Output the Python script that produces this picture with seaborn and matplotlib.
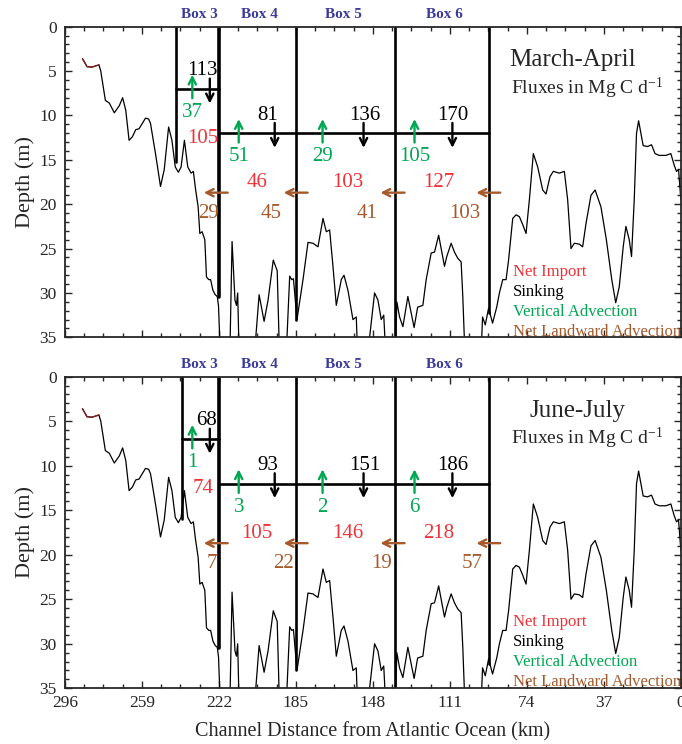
import numpy as np
import pandas as pd
import matplotlib
matplotlib.use("Agg")
import matplotlib.pyplot as plt
import matplotlib.transforms as mtransforms
import seaborn as sns

# ---------------------------------------------------------------- data
# Channel bathymetry: distance from the Atlantic (km) and depth (m).
# Depths of 38 mark where the bottom drops below the plotted range.
profile_km = [287.6, 285.4, 283.0, 281.0, 279.7, 278.8, 276.6, 274.7, 272.3, 269.9,
              268.3, 266.8, 265.2, 263.6, 262.0, 260.4, 257.3, 255.8, 254.9, 252.5,
              250.1, 248.3, 246.2, 244.6, 243.0, 241.5, 240.2, 238.6, 237.0, 235.4,
              234.3, 233.2, 232.0, 231.2, 230.1, 228.8, 228.0, 226.9, 226.0, 224.9,
              223.8, 222.8, 222.2, 221.2, 216.8, 216.6, 215.7, 214.3, 213.6, 213.0,
              212.2, 204.5, 204.3, 202.7, 200.3, 198.4, 195.9, 194.0, 192.8, 189.5,
              189.3, 188.0, 187.0, 186.2, 184.5, 181.6, 179.2, 176.8, 174.4, 172.0,
              170.4, 168.8, 167.2, 165.6, 163.2, 161.9, 160.0, 157.6, 156.0, 155.2,
              149.8, 149.6, 147.2, 145.6, 144.0, 142.8, 141.6, 137.4, 136.5, 135.2,
              133.6, 131.2, 129.6, 128.2, 126.5, 124.0, 122.4, 120.0, 118.4, 116.4,
              114.5, 113.6, 112.5, 110.4, 108.8, 107.2, 105.6, 104.8, 103.6, 96.2,
              95.3, 94.0, 92.4, 90.5, 88.5, 87.2, 85.6, 84.0, 82.8, 80.8,
              79.2, 77.6, 76.0, 74.4, 72.8, 70.9, 68.8, 66.4, 64.8, 62.9,
              61.3, 58.4, 56.0, 54.4, 52.8, 51.2, 48.8, 47.2, 45.6, 43.2,
              41.2, 38.4, 35.8, 33.2, 31.3, 29.6, 27.7, 26.4, 24.8, 23.7,
              22.4, 21.3, 20.3, 19.2, 18.1, 16.0, 14.1, 12.4, 10.4, 7.2,
              4.8, 3.2, 2.1, 1.1, 0.0]
profile_depth = [3.6, 4.5, 4.55, 4.4, 4.3, 5.0, 8.3, 8.6, 9.7, 8.9,
                 8.0, 9.4, 12.8, 12.4, 11.6, 11.5, 10.3, 10.4, 10.9, 14.3,
                 18.0, 16.1, 11.3, 12.8, 15.8, 16.4, 15.8, 12.8, 15.8, 16.5,
                 16.3, 18.4, 20.3, 23.3, 23.1, 24.0, 28.2, 28.5, 28.5, 29.7,
                 30.2, 30.4, 31.5, 38.0, 38.0, 35.0, 24.2, 30.8, 31.4, 30.0,
                 38.0, 38.0, 35.0, 30.2, 33.2, 30.8, 26.3, 27.5, 38.0, 38.0,
                 35.0, 28.1, 28.5, 28.4, 33.0, 28.5, 24.3, 24.4, 24.8, 21.6,
                 23.1, 22.9, 27.0, 31.4, 28.5, 28.0, 29.7, 33.0, 32.7, 38.0,
                 38.0, 35.0, 30.0, 30.8, 33.0, 32.5, 38.0, 38.0, 31.0, 32.7,
                 33.8, 30.4, 32.3, 33.9, 31.6, 31.4, 28.5, 25.5, 25.4, 23.5,
                 25.9, 27.0, 25.9, 24.4, 25.4, 26.1, 26.5, 30.4, 38.0, 38.0,
                 32.7, 33.6, 31.7, 33.4, 31.6, 30.0, 28.5, 28.5, 26.3, 21.6,
                 21.2, 21.4, 22.3, 23.3, 19.5, 14.3, 15.8, 18.4, 18.85, 16.9,
                 16.3, 16.5, 16.3, 19.5, 25.0, 24.4, 24.5, 24.8, 22.2, 19.0,
                 18.4, 20.3, 24.0, 28.5, 31.1, 29.3, 24.8, 22.5, 24.0, 25.9,
                 19.5, 12.0, 10.6, 12.0, 13.4, 13.5, 13.3, 14.3, 14.5, 14.5,
                 14.3, 15.6, 16.3, 16.1, 19.5]

seasons = ["March-April", "June-July"]
box_names = ["Box 3", "Box 4", "Box 5", "Box 6"]

# Carbon fluxes (Mg C d-1) per box: Box 3, Box 4, Box 5, Box 6
sinking = {"March-April": [113, 81, 136, 170], "June-July": [68, 93, 151, 186]}
vertical_adv = {"March-April": [37, 51, 29, 105], "June-July": [1, 3, 2, 6]}
net_import = {"March-April": [105, 46, 103, 127], "June-July": [74, 105, 146, 218]}
landward_adv = {"March-April": [29, 45, 41, 103], "June-July": [7, 22, 19, 57]}

legend_labels = ["Net Import", "Sinking", "Vertical Advection", "Net Landward Advection"]

# ---------------------------------------------------------------- layout
# box boundaries (km) and how deep each boundary line reaches (m)
box3_left = {"March-April": 242.7, "June-July": 240.0}
box3_left_bottom = {"March-April": 15.3, "June-July": 16.0}
bounds_km = [222.0, 185.0, 137.6, 92.0]
bounds_bottom = [30.5, 33.0, 35.0, 32.3]
bounds_lw = [2.6, 1.9, 1.9, 1.9]
box3_lid = 7.0
lid = 12.0

box_label_km = [231.2, 202.4, 162.4, 113.6]
vert_x = [234.8, 212.5, 172.2, 128.0]
sink_lab_x = {"March-April": [229.8, 198.6, 152.0, 109.8],
              "June-July": [227.9, 198.6, 152.0, 109.8]}
sink_arr_x = [226.4, 195.2, 152.5, 109.8]
import_x = [229.8, 203.9, 160.2, 116.5]
land_arr_from = [217.8, 179.4, 132.8, 86.8]
land_arr_to = [229.3, 190.9, 144.4, 98.3]
land_lab_x = {"March-April": [226.9, 196.7, 150.6, 103.6],
              "June-July": [225.5, 190.9, 143.9, 100.2]}
title_x = {"March-April": 82.4, "June-July": 72.8}

RED = "#ee3338"
GREEN = "#00a651"
BROWN = "#a65a2c"
BLUE = "#3b3b9b"
colors_leg = [RED, "black", GREEN, BROWN]

# ---------------------------------------------------------------- style
sns.set_style("ticks")
plt.rcParams["font.family"] = ["Liberation Serif", "DejaVu Serif"]
plt.rcParams["mathtext.fontset"] = "custom"
plt.rcParams["mathtext.rm"] = "Liberation Serif"
plt.rcParams["mathtext.it"] = "Liberation Serif:italic"

fig = plt.figure(figsize=(6.82, 7.44), dpi=100)
ax_top = fig.add_axes([0.0953, 0.5466, 0.9030, 0.4175])
ax_bot = fig.add_axes([0.0953, 0.0749, 0.9030, 0.4188])

df = pd.DataFrame({"km": profile_km, "depth": profile_depth})

NUM_FS = 15
DY = 0.3  # nudges text centres down onto the glyphs' visual middle


def arrow(ax, x0, y0, x1, y1, color):
    ax.annotate("", xy=(x1, y1), xytext=(x0, y0),
                arrowprops=dict(arrowstyle="->", color=color, lw=1.7,
                                mutation_scale=13, shrinkA=0, shrinkB=0))


for ax, season in zip([ax_top, ax_bot], seasons):
    # channel bottom
    sns.lineplot(data=df, x="km", y="depth", ax=ax, color="black", lw=0.9,
                 sort=False, estimator=None)
    sns.lineplot(data=df.iloc[:5], x="km", y="depth", ax=ax, color="#8b1e1e",
                 lw=0.9, sort=False, estimator=None)

    # box walls and lids
    ax.plot([box3_left[season]] * 2, [0, box3_left_bottom[season]], color="black", lw=1.9)
    for xb, yb, lw in zip(bounds_km, bounds_bottom, bounds_lw):
        ax.plot([xb, xb], [0, yb], color="black", lw=lw)
    ax.plot([box3_left[season], bounds_km[0]], [box3_lid] * 2, color="black", lw=1.9)
    ax.plot([bounds_km[0], bounds_km[-1]], [lid] * 2, color="black", lw=1.9)

    trans = mtransforms.blended_transform_factory(ax.transData, ax.transAxes)
    for name, xk in zip(box_names, box_label_km):
        ax.text(xk, 1.04, name, transform=trans, ha="center", va="center",
                color=BLUE, fontsize=11, fontweight="bold")

    for i in range(4):
        lvl = box3_lid if i == 0 else lid
        # sinking
        ax.text(sink_lab_x[season][i], lvl - 2.35 + DY, str(sinking[season][i]),
                ha="center", va="center", fontsize=NUM_FS, color="black")
        arrow(ax, sink_arr_x[i], lvl - 1.15, sink_arr_x[i], lvl + 1.65, "black")
        # vertical advection
        arrow(ax, vert_x[i], lvl + 1.05, vert_x[i], lvl - 1.6, GREEN)
        ax.text(vert_x[i], lvl + 2.35 + DY, str(vertical_adv[season][i]), ha="center",
                va="center", fontsize=NUM_FS, color=GREEN)
        # net import
        y_imp = 12.3 if i == 0 else 17.3
        ax.text(import_x[i], y_imp + DY, str(net_import[season][i]), ha="center",
                va="center", fontsize=NUM_FS, color=RED)
        # landward advection
        arrow(ax, land_arr_from[i], 18.7, land_arr_to[i], 18.7, BROWN)
        ax.text(land_lab_x[season][i], 20.7 + DY, str(landward_adv[season][i]),
                ha="center", va="center", fontsize=NUM_FS, color=BROWN)

    ax.text(title_x[season], 3.5 + DY, season, ha="left", va="center", fontsize=18)
    ax.text(81.5, 6.6 + DY, r"Fluxes in Mg C d$^{\mathrm{-1}}$", ha="left",
            va="center", fontsize=14)
    for j, (lab, c) in enumerate(zip(legend_labels, colors_leg)):
        ax.text(80.5, 27.3 + 2.25 * j + DY, lab, ha="left", va="center",
                fontsize=12, color=c)

    ax.set_xlim(296, 0)
    ax.set_ylim(35, 0)
    ax.set_xticks([296, 259, 222, 185, 148, 111, 74, 37, 0])
    ax.set_xticks(np.arange(296, -1, -9.25), minor=True)
    ax.set_yticks(np.arange(0, 36, 5))
    ax.set_yticks(np.arange(0, 36, 1), minor=True)
    ax.tick_params(which="both", direction="in", top=True, right=True,
                   labelsize=12.5, width=1.0)
    ax.tick_params(which="major", length=5)
    ax.tick_params(which="minor", length=3)
    ax.tick_params(axis="y", which="major", pad=6)
    ax.tick_params(axis="x", which="major", pad=5)
    for sp in ax.spines.values():
        sp.set_linewidth(1.3)
    ax.set_ylabel("Depth (m)", fontsize=16, labelpad=3)
    ax.set_xlabel("")

ax_top.tick_params(labelbottom=False)
ax_bot.set_xlabel("Channel Distance from Atlantic Ocean (km)", fontsize=14.5,
                  labelpad=8)

fig.savefig("out.png", dpi=100)
